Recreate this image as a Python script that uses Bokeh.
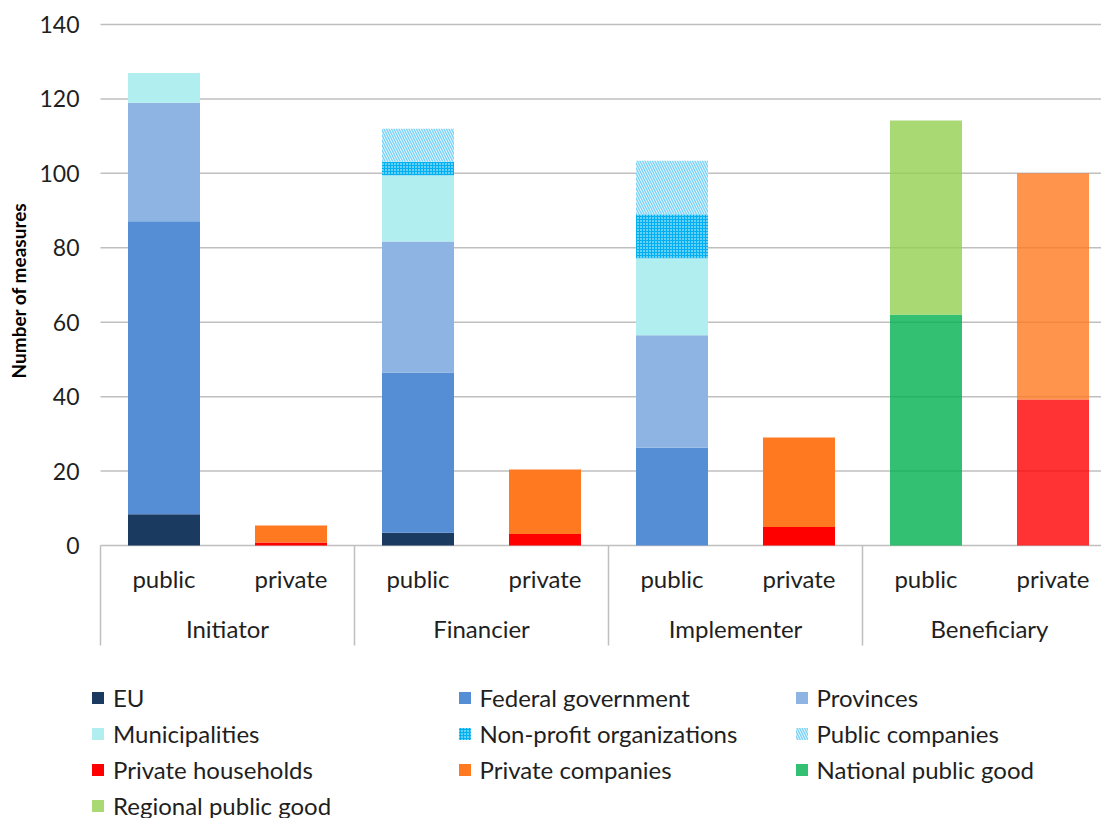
import math
from bokeh.plotting import figure
from bokeh.models import Range1d, ColumnDataSource, Legend, LegendItem
from bokeh.core.properties import value
from bokeh.transform import stack, dodge
from bokeh.embed import file_html
from bokeh.resources import INLINE

# ---------------- data ----------------
groups = ["Initiator", "Financier", "Implementer", "Beneficiary"]
subgroups = ["public", "private"]
y_ticks = [0, 20, 40, 60, 80, 100, 120, 140]
y_title = "Number of measures"

# order of bars: Initiator public/private, Financier public/private,
# Implementer public/private, Beneficiary public/private
eu                 = [8.4, 0.0, 3.4, 0.0, 0.0, 0.0, 0.0, 0.0]
federal_government = [78.7, 0.0, 43.1, 0.0, 26.3, 0.0, 0.0, 0.0]
provinces          = [31.9, 0.0, 35.2, 0.0, 30.2, 0.0, 0.0, 0.0]
municipalities     = [8.0, 0.0, 17.8, 0.0, 20.7, 0.0, 0.0, 0.0]
non_profit_orgs    = [0.0, 0.0, 3.6, 0.0, 11.8, 0.0, 0.0, 0.0]
public_companies   = [0.0, 0.0, 8.9, 0.0, 14.4, 0.0, 0.0, 0.0]
private_households = [0.0, 0.8, 0.0, 3.1, 0.0, 5.0, 0.0, 39.2]
private_companies  = [0.0, 4.6, 0.0, 17.3, 0.0, 24.0, 0.0, 60.8]
national_good      = [0.0, 0.0, 0.0, 0.0, 0.0, 0.0, 62.0, 0.0]
regional_good      = [0.0, 0.0, 0.0, 0.0, 0.0, 0.0, 52.2, 0.0]

series = [
    ("eu", "EU", eu),
    ("fed", "Federal government", federal_government),
    ("prov", "Provinces", provinces),
    ("mun", "Municipalities", municipalities),
    ("npo", "Non-profit organizations", non_profit_orgs),
    ("pubco", "Public companies", public_companies),
    ("hh", "Private households", private_households),
    ("privco", "Private companies", private_companies),
    ("nat", "National public good", national_good),
    ("reg", "Regional public good", regional_good),
]

# ---------------- styles ----------------
styles = {
    "eu":     dict(fill_color="#1B3A60"),
    "fed":    dict(fill_color="#558ED5"),
    "prov":   dict(fill_color="#8EB4E3"),
    "mun":    dict(fill_color="#B0EEF0"),
    "npo":    dict(fill_color="#00B0F0", hatch_pattern="dot", hatch_color="white",
                   hatch_scale=3, hatch_weight=0.5),
    "pubco":  dict(fill_color="white", hatch_pattern="\\", hatch_color="#7FD4F6",
                   hatch_scale=5, hatch_weight=1.6),
    "hh":     dict(fill_color="#FF0000"),
    "privco": dict(fill_color="#FF7920"),
    "nat":    dict(fill_color="#00B050"),
    "reg":    dict(fill_color="#92D050"),
}
FONT_NAME = "Lato"
FONT = value(FONT_NAME)
FONT_SIZE = "24px"
TEXT_COLOR = "#1F1F1F"
GRID_COLOR = "#BFBFBF"

# ---------------- layout (pixels) ----------------
W, H = 1101, 818
LEFT = 100          # x pixel where the value area starts
SLOT_PX = 127       # width of one sub-category slot
ZERO_PX = 545       # pixel row of value 0
TOP_PX = 24         # pixel row of value 140
BAR_W = 0.567       # bar width in slot units
ppu = (ZERO_PX - TOP_PX) / 140.0
y_start = -(H - ZERO_PX) / ppu
y_end = 140 + TOP_PX / ppu
x_start = -LEFT / SLOT_PX
x_end = (W - LEFT) / SLOT_PX

def ypx(px):
    """pixel row (from top) -> data y"""
    return -(px - ZERO_PX) / ppu

def xpx(px):
    """pixel column -> data x"""
    return (px - LEFT) / SLOT_PX

n_bars = len(groups) * len(subgroups)
x_pos = [i + 0.5 for i in range(n_bars)]
bar_group = [groups[i // 2] for i in range(n_bars)]
alpha = [0.8 if g == "Beneficiary" else 1.0 for g in bar_group]

data = dict(x=x_pos, alpha=alpha)
for key, _, vals in series:
    data[key] = vals
src = ColumnDataSource(data)

p = figure(width=W, height=H, output_backend="svg", toolbar_location=None,
           x_range=Range1d(x_start, x_end), y_range=Range1d(y_start, y_end),
           x_axis_location=None, y_axis_location=None,
           min_border_left=0, min_border_right=0, min_border_top=0, min_border_bottom=0)
p.outline_line_color = None
p.background_fill_color = "white"
p.border_fill_color = "white"
p.grid.visible = False

# value axis: grid lines, tick labels and title
p.segment(x0=0, x1=x_end, y0=y_ticks, y1=y_ticks, line_color=GRID_COLOR, line_width=1.5)
tick_src = ColumnDataSource(dict(y=y_ticks, text=[str(t) for t in y_ticks]))
p.text(x=xpx(79), y="y", text="text", source=tick_src, text_font=FONT,
       text_font_size="23px", text_color=TEXT_COLOR, text_align="right",
       text_baseline="middle")
p.text(x=xpx(18), y=ypx(290), text=[y_title], angle=math.pi / 2, text_font=FONT,
       text_font_style="bold", text_font_size="19px", text_color="black",
       text_align="center", text_baseline="middle")

# stacked bars
renderers = {}
below = []
for key, label, _ in series:
    bottom = stack(*below) if below else 0
    r = p.quad(left=dodge("x", -BAR_W / 2), right=dodge("x", BAR_W / 2),
               bottom=bottom, top=stack(*below, key), source=src,
               fill_alpha="alpha", line_color=None, **styles[key])
    renderers[key] = r
    below.append(key)

# category axis
sep_x = [2 * g for g in range(len(groups) + 1)]
p.segment(x0=sep_x, y0=0, x1=sep_x, y1=ypx(645), line_color=GRID_COLOR, line_width=1.5)
sub_src = ColumnDataSource(dict(x=x_pos, text=[subgroups[i % 2] for i in range(n_bars)]))
p.text(x="x", y=ypx(578), text="text", source=sub_src, text_font=FONT,
       text_font_size=FONT_SIZE, text_color=TEXT_COLOR, text_align="center",
       text_baseline="middle")
grp_src = ColumnDataSource(dict(x=[2 * g + 1 for g in range(len(groups))], text=groups))
p.text(x="x", y=ypx(628), text="text", source=grp_src, text_font=FONT,
       text_font_size=FONT_SIZE, text_color=TEXT_COLOR, text_align="center",
       text_baseline="middle")

# legend in three columns (row-major order as in the original)
labels = {k: l for k, l, _ in series}
legend_index = {k: (6 if k in ("nat", "reg") else 0) for k, _, _ in series}
columns = [(["eu", "mun", "hh", "reg"], 90, -1.5),
           (["fed", "npo", "privco"], 456.5, 34.5),
           (["prov", "pubco", "nat"], 793.5, 34.5)]
for keys, lx, ly in columns:
    items = [LegendItem(label=labels[k], renderers=[renderers[k]], index=legend_index[k])
             for k in keys]
    lg = Legend(items=items, location=(lx, ly), orientation="vertical",
                border_line_color=None, background_fill_alpha=0, padding=0, margin=0,
                spacing=7, glyph_width=15, glyph_height=15, label_standoff=8,
                label_text_font=FONT_NAME, label_text_font_size=FONT_SIZE,
                label_text_color=TEXT_COLOR)
    p.add_layout(lg)

open("out.html", "w").write(file_html(p, INLINE))
